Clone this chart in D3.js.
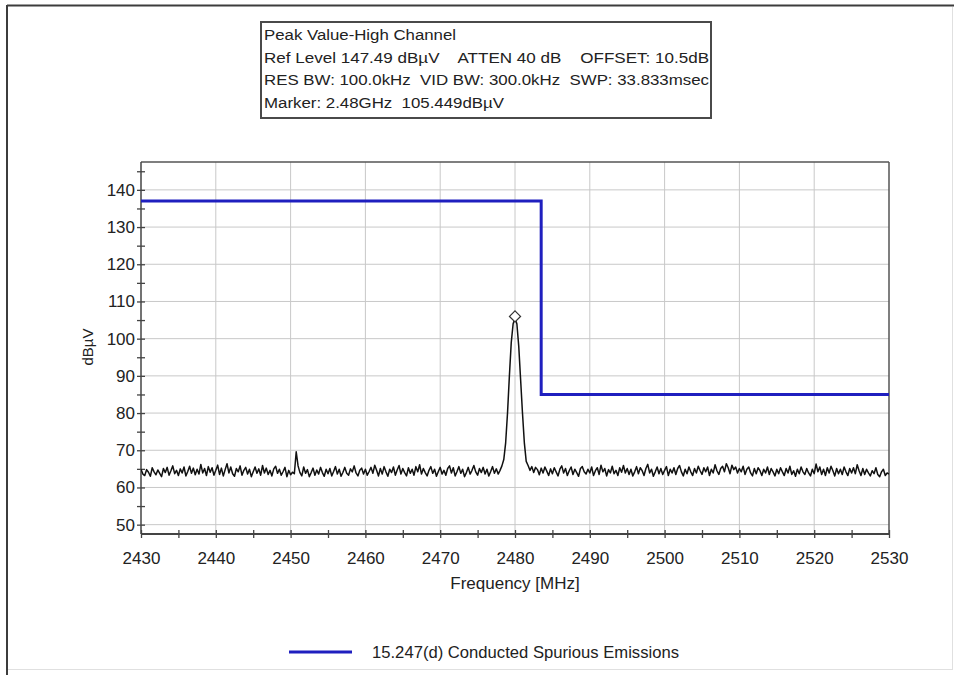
<!DOCTYPE html>
<html>
<head>
<meta charset="utf-8">
<script src="https://cdn.jsdelivr.net/npm/d3@7"></script>
<style>
  html, body { margin: 0; padding: 0; background: #fff; }
  svg { display: block; font-family: "Liberation Sans", Arial, sans-serif; }
</style>
</head>
<body>
<svg id="chart" width="954" height="675"></svg>
<script>
// ---------------- DATA ----------------
const headerLines = [
  "Peak Value-High Channel",
  "Ref Level 147.49 dB\u00B5V    ATTEN 40 dB    OFFSET: 10.5dB",
  "RES BW: 100.0kHz  VID BW: 300.0kHz  SWP: 33.833msec",
  "Marker: 2.48GHz  105.449dB\u00B5V"
];
const xTickValues = [2430, 2440, 2450, 2460, 2470, 2480, 2490, 2500, 2510, 2520, 2530];
const yTickValues = [50, 60, 70, 80, 90, 100, 110, 120, 130, 140];
const xLabel = "Frequency [MHz]";
const yLabel = "dB\u00B5V";
const legendLabel = "15.247(d) Conducted Spurious Emissions";

// limit line (step)
const limitFreq  = [2430, 2483.5, 2483.5, 2530];
const limitLevel = [137, 137, 85, 85];

// marker
const markerFreq = 2480;
const markerLevel = 105.449;

// measured trace: start 2430 MHz, step 0.25 MHz
const traceStart = 2430;
const traceStep = 0.25;
const traceLevel = [
  64.9,63.6,63.2,64.8,64.1,63.0,65.3,64.2,63.4,64.7,63.8,62.9,65.1,64.0,65.4,63.3,64.5,65.8,63.7,64.6,
  63.2,65.0,63.9,65.5,63.1,64.3,65.7,63.8,65.2,63.4,64.9,63.6,66.2,63.9,65.1,63.2,65.6,64.1,65.3,63.3,
  64.6,66.0,63.5,65.2,63.1,64.8,66.4,63.9,65.5,63.7,63.0,65.1,64.2,65.8,63.3,64.6,65.4,63.6,64.9,62.9,
  64.2,65.5,63.8,65.0,63.3,65.9,63.9,65.2,63.5,64.6,63.1,65.0,65.7,63.8,64.9,63.3,64.3,65.4,62.9,64.6,
  63.4,64.1,63.7,69.6,65.8,64.0,63.1,65.5,63.8,64.8,62.9,64.0,65.2,63.3,64.7,63.6,65.4,64.0,63.0,64.9,
  63.7,65.1,63.1,64.3,65.6,63.6,64.9,63.0,64.1,65.4,63.8,63.3,65.0,64.2,65.8,63.9,63.1,64.6,65.2,63.6,
  64.9,63.3,64.3,65.4,63.8,66.0,64.6,63.1,65.1,63.6,65.6,64.2,63.0,64.9,64.0,65.5,63.3,64.7,65.9,63.6,
  65.1,64.0,63.1,65.3,63.8,64.9,63.3,65.6,64.2,66.1,63.6,65.1,64.0,63.1,64.6,65.6,63.8,64.9,63.0,64.3,
  65.4,63.6,64.6,63.3,65.1,65.8,63.9,65.3,63.1,64.3,65.6,63.8,64.9,62.9,64.0,65.4,63.6,64.6,65.9,64.2,
  63.3,65.1,64.0,65.4,63.6,64.9,63.1,64.3,65.6,63.8,65.0,63.6,64.6,65.8,67.5,72.0,80.0,90.0,99.0,104.0,
  105.4,104.0,98.0,89.0,80.0,72.0,67.0,65.9,64.6,65.6,64.0,65.4,64.8,63.4,65.2,63.9,65.5,64.4,63.2,65.0,
  63.7,65.3,64.2,63.1,64.9,65.8,63.9,65.1,63.2,64.5,65.5,63.5,64.9,64.0,63.0,65.1,65.6,64.2,63.6,64.9,
  63.9,65.5,63.2,64.5,65.3,63.5,66.0,64.2,65.1,63.1,64.8,63.9,65.7,63.7,64.6,63.2,65.3,64.1,65.9,63.9,
  65.1,63.5,64.9,63.1,64.2,65.6,63.7,65.3,64.5,63.2,65.1,66.2,63.9,64.9,63.0,64.2,65.5,63.7,65.1,63.5,
  64.6,65.6,63.2,64.9,63.9,65.3,63.5,65.1,65.9,64.2,63.1,64.9,63.7,65.5,64.2,63.2,65.1,63.9,65.7,64.5,
  63.5,65.3,64.2,65.5,63.2,64.9,63.9,66.1,64.5,63.5,65.1,65.7,64.2,66.4,65.3,63.7,66.0,64.8,65.5,63.9,
  65.1,64.2,65.7,63.5,64.9,65.5,63.9,63.1,65.1,63.7,65.3,64.5,63.2,64.9,63.9,65.5,63.5,65.1,64.2,63.1,
  64.9,63.7,65.3,64.2,63.2,65.1,63.9,65.7,63.5,64.5,63.0,64.9,63.7,65.5,64.2,63.5,65.1,63.9,63.1,64.9,
  63.7,66.3,64.2,65.5,63.5,64.9,63.2,65.3,63.9,65.7,64.5,63.1,65.1,63.7,64.9,63.5,65.5,64.2,63.2,65.1,
  63.9,65.3,63.7,66.1,64.5,63.2,65.1,63.5,64.9,63.9,63.1,64.5,63.7,65.3,63.5,62.9,64.2,64.9,63.2,63.9,
  63.6
];

// ---------------- LAYOUT ----------------
const svg = d3.select("#chart");
const plot = { left: 141, right: 889, top: 162, bottom: 534 };
const x = d3.scaleLinear().domain([2430, 2530]).range([plot.left, plot.right]);
const y = d3.scaleLinear().domain([47.49, 147.49]).range([plot.bottom, plot.top]);

// outer frame
svg.append("line").attr("x1", 7).attr("x2", 954).attr("y1", 5.5).attr("y2", 5.5)
  .attr("stroke", "#3c3c3c").attr("stroke-width", 2);
svg.append("line").attr("x1", 7).attr("x2", 7).attr("y1", 5).attr("y2", 675)
  .attr("stroke", "#3c3c3c").attr("stroke-width", 2);
svg.append("line").attr("x1", 952.5).attr("x2", 952.5).attr("y1", 7).attr("y2", 670)
  .attr("stroke", "#e0e0e0").attr("stroke-width", 1);
svg.append("line").attr("x1", 8).attr("x2", 953).attr("y1", 669.5).attr("y2", 669.5)
  .attr("stroke", "#e0e0e0").attr("stroke-width", 1);

// header box
const hb = svg.append("g");
hb.append("rect").attr("x", 261).attr("y", 22).attr("width", 450).attr("height", 96)
  .attr("fill", "#fff").attr("stroke", "#4a4a4a").attr("stroke-width", 2);
hb.selectAll("text").data(headerLines).join("text")
  .attr("x", 264).attr("y", (d, i) => 40 + i * 22.5)
  .attr("font-size", 15.5).attr("fill", "#222")
  .style("white-space", "pre").attr("xml:space", "preserve")
  .attr("textLength", (d, i) => [192, 445, 445, 240][i])
  .attr("lengthAdjust", "spacingAndGlyphs")
  .text(d => d);

// grid
const grid = svg.append("g");
grid.selectAll("line.v").data(xTickValues.slice(1, -1)).join("line")
  .attr("x1", d => x(d)).attr("x2", d => x(d)).attr("y1", plot.top).attr("y2", plot.bottom)
  .attr("stroke", "#c8c8c8").attr("stroke-width", 1);
grid.selectAll("line.h").data(yTickValues).join("line")
  .attr("y1", d => y(d)).attr("y2", d => y(d)).attr("x1", plot.left).attr("x2", plot.right)
  .attr("stroke", "#c8c8c8").attr("stroke-width", 1);

// frame top/right
svg.append("line").attr("x1", plot.left).attr("x2", plot.right).attr("y1", plot.top).attr("y2", plot.top)
  .attr("stroke", "#555").attr("stroke-width", 1.5);
svg.append("line").attr("x1", plot.right).attr("x2", plot.right).attr("y1", plot.top).attr("y2", plot.bottom)
  .attr("stroke", "#555").attr("stroke-width", 1.5);

// axes
const yMinor = d3.range(50, 147, 5);
const yAxis = d3.axisLeft(y).tickValues(yMinor).tickSize(4).tickPadding(2)
  .tickFormat(d => (d % 10 === 0 ? d : ""));
const gy = svg.append("g").attr("transform", `translate(${plot.left},0)`).call(yAxis);
gy.select(".domain").attr("stroke", "#444").attr("stroke-width", 1.5)
  .attr("d", `M0,${plot.top}V${plot.bottom}`);
gy.selectAll(".tick line").attr("x1", 4).attr("stroke", "#444").attr("stroke-width", 1.3);
gy.selectAll(".tick text").attr("font-size", 17).attr("fill", "#222")
  .attr("font-family", "'Liberation Sans', Arial, sans-serif");

const xMinor = d3.range(2430, 2531, 5);
const xAxis = d3.axisBottom(x).tickValues(xMinor).tickSize(4).tickPadding(14)
  .tickFormat(d => (d % 10 === 0 ? d : ""));
const gx = svg.append("g").attr("transform", `translate(0,${plot.bottom})`).call(xAxis);
gx.select(".domain").attr("stroke", "#444").attr("stroke-width", 2.2)
  .attr("d", `M${plot.left},0H${plot.right}`);
gx.selectAll(".tick line").attr("y1", -4).attr("stroke", "#444").attr("stroke-width", 1.3);
gx.selectAll(".tick text").attr("font-size", 17).attr("fill", "#222")
  .attr("font-family", "'Liberation Sans', Arial, sans-serif");

// axis titles
svg.append("text").attr("x", x(2480)).attr("y", 589).attr("text-anchor", "middle")
  .attr("font-size", 17).attr("fill", "#222").text(xLabel);
svg.append("text").attr("transform", `translate(93,${(plot.top + plot.bottom) / 2 - 1}) rotate(-90)`)
  .attr("text-anchor", "middle").attr("font-size", 15).attr("fill", "#222").text(yLabel);

// clip
svg.append("clipPath").attr("id", "clip").append("rect")
  .attr("x", plot.left).attr("y", plot.top).attr("width", plot.right - plot.left).attr("height", plot.bottom - plot.top);

// trace
const trace = traceLevel.map((v, i) => ({ f: traceStart + i * traceStep, v }));
const line = d3.line().x(d => x(d.f)).y(d => y(d.v));
svg.append("path").datum(trace).attr("d", line).attr("clip-path", "url(#clip)")
  .attr("fill", "none").attr("stroke", "#111").attr("stroke-width", 1.5)
  .attr("stroke-linejoin", "round");

// limit line
const limit = limitFreq.map((f, i) => ({ f, v: limitLevel[i] }));
svg.append("path").datum(limit).attr("d", line)
  .attr("fill", "none").attr("stroke", "#1f1fbf").attr("stroke-width", 3);

// marker diamond
const mx = x(markerFreq), my = y(markerLevel) - 2;
svg.append("path").attr("d", `M${mx},${my - 5.5}L${mx + 5.5},${my}L${mx},${my + 5.5}L${mx - 5.5},${my}Z`)
  .attr("fill", "#fff").attr("stroke", "#333").attr("stroke-width", 1.3);

// legend
svg.append("line").attr("x1", 289).attr("x2", 352).attr("y1", 652).attr("y2", 652)
  .attr("stroke", "#1f1fbf").attr("stroke-width", 3);
svg.append("text").attr("x", 372).attr("y", 658).attr("font-size", 16.5).attr("fill", "#222")
  .attr("textLength", 307).attr("lengthAdjust", "spacingAndGlyphs").text(legendLabel);
</script>
</body>
</html>
